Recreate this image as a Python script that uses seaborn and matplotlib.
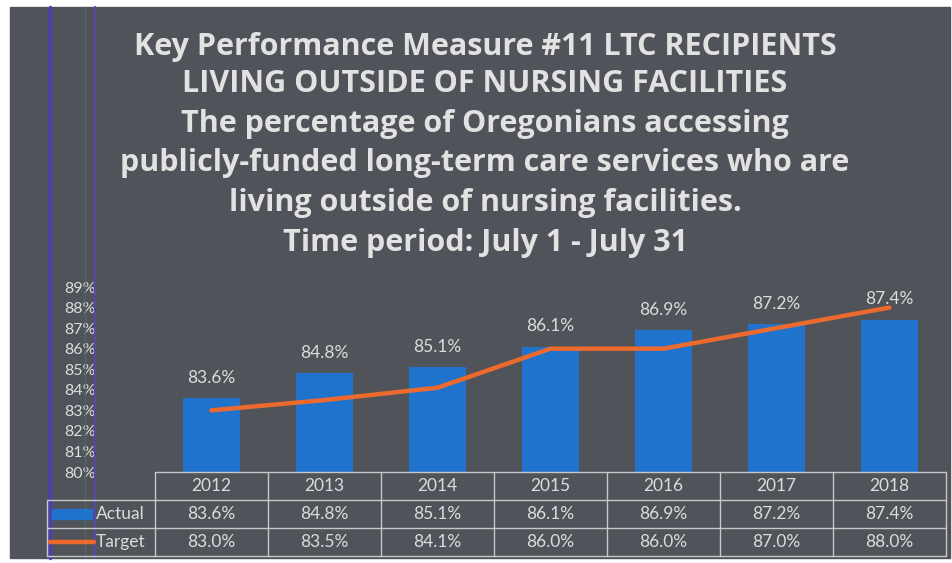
import numpy as np
import pandas as pd
import matplotlib.pyplot as plt
import matplotlib.transforms as mtransforms
from matplotlib.patches import Rectangle
from matplotlib.lines import Line2D
import seaborn as sns

# KPM #11 data
years = ['2012', '2013', '2014', '2015', '2016', '2017', '2018']
actual = [83.6, 84.8, 85.1, 86.1, 86.9, 87.2, 87.4]
target = [83.0, 83.5, 84.1, 86.0, 86.0, 87.0, 88.0]
y_ticks = [80, 81, 82, 83, 84, 85, 86, 87, 88, 89]
series_names = ['Actual', 'Target']

title_lines = [
    'Key Performance Measure #11 LTC RECIPIENTS',
    'LIVING OUTSIDE OF NURSING FACILITIES',
    'The percentage of Oregonians accessing',
    'publicly-funded long-term care services who are',
    'living outside of nursing facilities.',
    'Time period: July 1 - July 31',
]

BG = '#505359'
BLUE = '#1f73cc'
ORANGE = '#ec6a2e'
TXT = '#dcdcdc'
RULE = '#c8c8c8'

W, H = 953, 563
sns.set_theme(style='white')
plt.rcParams['font.family'] = ['Lato', 'DejaVu Sans']

fig = plt.figure(figsize=(W / 100, H / 100), dpi=100)
fig.patch.set_facecolor('white')


def fx(px):
    return px / W


def fy(px):
    return 1 - px / H


# slide background + decorative stripes
fig.add_artist(Rectangle((fx(10), fy(558)), fx(940), 551 / H,
                         transform=fig.transFigure, color=BG, zorder=0))
for x, c, lw in [(50, '#4b3fb5', 2.5), (85, '#4e6a5c', 1.0), (95, '#5846a8', 1.5)]:
    fig.add_artist(Line2D([fx(x), fx(x)], [fy(558), fy(7)], color=c, lw=lw,
                          transform=fig.transFigure, zorder=1))

# title
title_y = [47, 84, 124, 163, 203, 243]
for line, y in zip(title_lines, title_y):
    fig.text(fx(485), fy(y), line, ha='center', va='center', fontsize=22,
             fontweight='bold', color='#e2e2e2', family=['Open Sans', 'DejaVu Sans'])

# chart
ax = fig.add_axes([fx(155), fy(472), fx(946) - fx(155), 185 / H])
ax.set_facecolor('none')
df = pd.DataFrame({'year': years, 'actual': actual, 'target': target})
sns.barplot(data=df, x='year', y='actual', color=BLUE, width=0.5,
            saturation=1, linewidth=0, ax=ax)
sns.lineplot(x=np.arange(len(years)), y=target, color=ORANGE, linewidth=3.2,
             ax=ax, sort=False)
ax.bar_label(ax.containers[0], labels=[f'{v:.1f}%' for v in actual],
             padding=9, color=TXT, fontsize=12.5)

ax.set_xlim(-0.5, len(years) - 0.5)
ax.set_ylim(80, 89)
ax.set_yticks(y_ticks)
ax.set_yticklabels([f'{t}%' for t in y_ticks])
ax.tick_params(axis='y', length=0, pad=43, labelsize=11.5, labelcolor=TXT)
ax.set_xticks([])
ax.set_xlabel('')
ax.set_ylabel('')
sns.despine(ax=ax, left=True, bottom=True)

# data table under the chart
blend = mtransforms.blended_transform_factory(ax.transData, fig.transFigure)
left = -0.5
right = len(years) - 0.5
row_y = [472, 500, 528, 556]


def rule(xs, ys, tr):
    fig.add_artist(Line2D(xs, ys, color=RULE, lw=1, transform=tr, clip_on=False))


rule([left, right], [fy(472), fy(472)], blend)
for y in row_y[1:]:
    rule([fx(47), fx(155)], [fy(y), fy(y)], fig.transFigure)
    rule([left, right], [fy(y), fy(y)], blend)
for i in range(len(years) + 1):
    rule([i - 0.5, i - 0.5], [fy(472), fy(556)], blend)
rule([fx(47), fx(47)], [fy(500), fy(556)], fig.transFigure)

row_centers = [486, 514, 542]
for i, yr in enumerate(years):
    fig.text(i, fy(row_centers[0]), yr, transform=blend, ha='center',
             va='center', color=TXT, fontsize=12.5)
    fig.text(i, fy(row_centers[1]), f'{actual[i]:.1f}%', transform=blend,
             ha='center', va='center', color=TXT, fontsize=12.5)
    fig.text(i, fy(row_centers[2]), f'{target[i]:.1f}%', transform=blend,
             ha='center', va='center', color=TXT, fontsize=12.5)

# legend keys in the row headers
fig.add_artist(Rectangle((fx(52), fy(519)), fx(40), 10 / H,
                         transform=fig.transFigure, color=BLUE))
fig.add_artist(Line2D([fx(50), fx(94)], [fy(542), fy(542)], color=ORANGE,
                      lw=3.2, transform=fig.transFigure))
fig.text(fx(96), fy(514), series_names[0], ha='left', va='center',
         color=TXT, fontsize=12.5)
fig.text(fx(96), fy(542), series_names[1], ha='left', va='center',
         color=TXT, fontsize=12.5)

fig.savefig('out.png', dpi=100, facecolor=fig.get_facecolor())
